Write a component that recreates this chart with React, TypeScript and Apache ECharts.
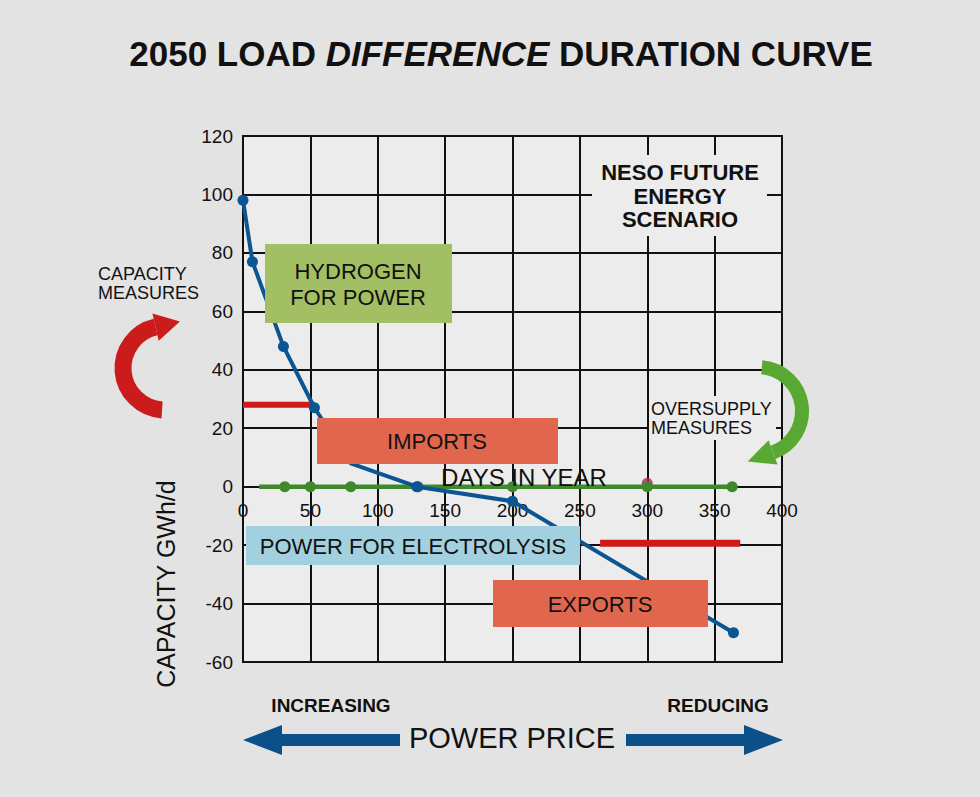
import React, { useEffect, useRef } from "react";
import * as echarts from "echarts";

// ---- data ----
const xTicks = { min: 0, max: 400, step: 50 };
const yTicks = { min: -60, max: 120, step: 20 };

const curveDays = [0, 7, 30, 53, 80, 129, 200, 364];
const curveValues = [98, 77, 48, 27, 8, 0, -5, -50];
const curveHiddenDot = [false, false, false, false, true, false, false, false];

const zeroDays = [12, 31, 50, 80, 130, 200, 300, 363];
const zeroValues = [0, 0, 0, 0, 0, 0, 0, 0];

const importLevelDays = [0, 53];
const importLevel = 28;
const exportLevelDays = [265, 369];
const exportLevel = -19.4;

const markerDay = 300;
const markerValue = 1.2;

const FONT = '"Liberation Sans", Arial, Helvetica, sans-serif';
const INK = "#111111";

export default function App() {
  const ref = useRef<HTMLDivElement>(null);

  useEffect(() => {
    if (!ref.current) return;
    const chart = echarts.init(ref.current, null, { renderer: "svg" });

    const curveData = curveDays.map((d, i) =>
      curveHiddenDot[i]
        ? { value: [d, curveValues[i]], symbol: "none" }
        : { value: [d, curveValues[i]] }
    );
    const zeroData = zeroDays.map((d, i) =>
      i === 0 ? { value: [d, zeroValues[i]], symbol: "none" } : { value: [d, zeroValues[i]] }
    );

    const red = "#cf1a1a";
    const green = "#3f892c";
    const blue = "#0b5592";

    const gridTop = 136;
    const gridBottom = 135;
    const gridH = 797 - gridTop - gridBottom;
    const zeroOffset = -(gridH * (0 - yTicks.min)) / (yTicks.max - yTicks.min);

    const box = (x: number, y: number, w: number, h: number, fill: string) => ({
      type: "rect",
      z: 10,
      shape: { x, y, width: w, height: h },
      style: { fill },
    });
    const txt = (
      x: number,
      y: number,
      text: string,
      size: number,
      opts: any = {}
    ) => ({
      type: "text",
      z: 11,
      x,
      y,
      rotation: opts.rotation || 0,
      style: {
        text,
        fill: INK,
        fontSize: size,
        fontFamily: FONT,
        fontWeight: opts.bold ? "bold" : "normal",
        align: opts.align || "center",
        verticalAlign: "middle",
        lineHeight: opts.lineHeight || size * 1.15,
      },
    });

    const deg = (a: number) => (a * Math.PI) / 180;
    const arrowHead = (
      cx: number,
      cy: number,
      r: number,
      angDeg: number,
      dir: number,
      len: number,
      half: number,
      color: string
    ) => {
      const a = deg(angDeg);
      const ex = cx + r * Math.cos(a);
      const ey = cy + r * Math.sin(a);
      const tx = -Math.sin(a) * dir;
      const ty = Math.cos(a) * dir;
      const rx = Math.cos(a);
      const ry = Math.sin(a);
      return {
        type: "polygon",
        z: 10,
        shape: {
          points: [
            [ex + rx * half, ey + ry * half],
            [ex + tx * len, ey + ty * len],
            [ex - rx * half, ey - ry * half],
          ],
        },
        style: { fill: color },
      };
    };

    const redArrowColor = "#cc1b1b";
    const greenArrowColor = "#58a832";
    const priceBlue = "#0b5089";

    const graphics: any[] = [
      {
        type: "text",
        z: 11,
        x: 501,
        y: 53,
        style: {
          text: "{n|2050 LOAD }{i|DIFFERENCE}{n| DURATION CURVE}",
          align: "center",
          verticalAlign: "middle",
          rich: {
            n: { fontSize: 35, fontWeight: "bold", fontFamily: FONT, fill: INK },
            i: {
              fontSize: 35,
              fontWeight: "bold",
              fontStyle: "italic",
              fontFamily: FONT,
              fill: INK,
            },
          },
        },
      },
      box(592, 155, 175, 81, "#ececec"),
      txt(680, 196, "NESO FUTURE\nENERGY\nSCENARIO", 22, { bold: true, lineHeight: 23.5 }),
      box(649, 396, 127, 44, "#ececec"),
      txt(651, 418, "OVERSUPPLY\nMEASURES", 18, { align: "left", lineHeight: 19 }),
      txt(98, 283, "CAPACITY\nMEASURES", 18, { align: "left", lineHeight: 19 }),
      box(265, 244, 187, 79, "#a3bf63"),
      txt(358, 284, "HYDROGEN\nFOR POWER", 22, { lineHeight: 26 }),
      box(317, 418, 241, 46, "#e0674e"),
      txt(437, 441, "IMPORTS", 22),
      box(246, 526, 334, 39, "#a2d0df"),
      txt(413, 546, "POWER FOR ELECTROLYSIS", 22),
      box(493, 580, 215, 47, "#e0674e"),
      txt(600, 604, "EXPORTS", 22),
      txt(524, 477, "DAYS IN YEAR", 24),
      txt(166, 584, "CAPACITY GWh/d", 25, { rotation: Math.PI / 2 }),
      {
        type: "arc",
        z: 10,
        shape: { cx: 165, cy: 368, r: 42, startAngle: deg(94), endAngle: deg(257), clockwise: true },
        style: { stroke: redArrowColor, lineWidth: 17, fill: "none" },
      },
      arrowHead(165, 368, 42, 257, 1, 25, 14, redArrowColor),
      {
        type: "arc",
        z: 10,
        shape: { cx: 758, cy: 411, r: 44, startAngle: deg(-85), endAngle: deg(70), clockwise: true },
        style: { stroke: greenArrowColor, lineWidth: 14, fill: "none" },
      },
      arrowHead(758, 411, 44, 70, 1, 27, 13, greenArrowColor),
      txt(331, 705, "INCREASING", 19, { bold: true }),
      txt(718, 705, "REDUCING", 19, { bold: true }),
      txt(512, 738, "POWER PRICE", 29),
      {
        type: "polygon",
        z: 10,
        shape: {
          points: [
            [243, 740], [282, 725], [282, 734], [400, 734],
            [400, 746], [282, 746], [282, 755],
          ],
        },
        style: { fill: priceBlue },
      },
      {
        type: "polygon",
        z: 10,
        shape: {
          points: [
            [783, 740], [744, 725], [744, 734], [626, 734],
            [626, 746], [744, 746], [744, 755],
          ],
        },
        style: { fill: priceBlue },
      },
    ];

    const option: any = {
      animation: false,
      backgroundColor: "#e3e3e3",
      grid: {
        show: true,
        left: 243,
        right: 198,
        top: gridTop,
        bottom: gridBottom,
        backgroundColor: "#ececec",
        borderColor: INK,
        borderWidth: 2,
      },
      xAxis: {
        type: "value",
        min: xTicks.min,
        max: xTicks.max,
        interval: xTicks.step,
        offset: zeroOffset,
        axisLine: { show: true, onZero: false, lineStyle: { color: INK, width: 2 } },
        axisTick: { show: false },
        axisLabel: { color: INK, fontSize: 19, fontFamily: FONT, margin: 14 },
        splitLine: { show: true, lineStyle: { color: INK, width: 2 } },
      },
      yAxis: {
        type: "value",
        min: yTicks.min,
        max: yTicks.max,
        interval: yTicks.step,
        axisLine: { show: true, onZero: false, lineStyle: { color: INK, width: 2 } },
        axisTick: { show: false },
        axisLabel: { color: INK, fontSize: 19, fontFamily: FONT, margin: 10 },
        splitLine: { show: true, lineStyle: { color: INK, width: 2 } },
      },
      graphic: graphics,
      series: [
        {
          type: "line",
          data: importLevelDays.map((d) => [d, importLevel]),
          symbol: "none",
          lineStyle: { color: red, width: 6 },
          z: 2,
        },
        {
          type: "line",
          data: exportLevelDays.map((d) => [d, exportLevel]),
          symbol: "none",
          lineStyle: { color: red, width: 7 },
          z: 2,
        },
        {
          type: "scatter",
          data: [[markerDay, markerValue]],
          symbolSize: 11,
          itemStyle: { color: "#b8235a" },
          z: 2,
        },
        {
          type: "line",
          data: zeroData,
          symbol: "circle",
          symbolSize: 11,
          showAllSymbol: true,
          lineStyle: { color: green, width: 4.5 },
          itemStyle: { color: green },
          z: 3,
        },
        {
          type: "line",
          data: curveData,
          symbol: "circle",
          symbolSize: 11,
          showAllSymbol: true,
          lineStyle: { color: blue, width: 4 },
          itemStyle: { color: blue },
          z: 4,
        },
      ],
    };

    chart.setOption(option);
    return () => chart.dispose();
  }, []);

  return (
    <div
      ref={ref}
      style={{ position: "fixed", left: 0, top: 0, width: 980, height: 797 }}
    />
  );
}
